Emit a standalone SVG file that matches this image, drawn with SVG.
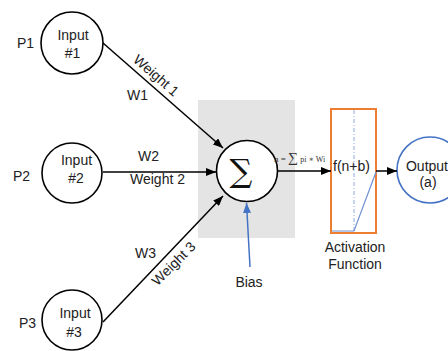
<svg xmlns="http://www.w3.org/2000/svg" width="448" height="351" viewBox="0 0 448 351">
<style>
.t{font-family:"Liberation Sans",Arial,sans-serif;font-size:14px;fill:#222}
.c{fill:#fff;stroke:#000;stroke-width:1.6}
.e{stroke:#000;stroke-width:1.5;fill:none}
.m{font-family:"Liberation Serif","DejaVu Serif",serif;fill:#333}
</style>
<defs>
<marker id="ah" markerWidth="10" markerHeight="8" refX="10" refY="4" orient="auto" markerUnits="userSpaceOnUse"><path d="M0,0L10,4L0,8z" fill="#000"/></marker>
<marker id="bh" markerWidth="10" markerHeight="8" refX="10" refY="4" orient="auto" markerUnits="userSpaceOnUse"><path d="M0,0L10,4L0,8z" fill="#4472C4"/></marker>
</defs>
<rect x="198" y="100" width="97" height="138" fill="#e4e4e4"/>
<g id="input1">
<circle class="c" cx="72" cy="43" r="31"/>
<text class="t" x="73" y="40" text-anchor="middle">Input</text>
<text class="t" x="72.5" y="58" text-anchor="middle">#1</text>
<text class="t" x="17" y="48">P1</text>
</g>
<g id="input2">
<circle class="c" cx="72" cy="173" r="30"/>
<text class="t" x="76.5" y="165" text-anchor="middle">Input</text>
<text class="t" x="76" y="183" text-anchor="middle">#2</text>
<text class="t" x="13" y="181">P2</text>
</g>
<g id="input3">
<circle class="c" cx="72" cy="320" r="30"/>
<text class="t" x="75" y="318" text-anchor="middle">Input</text>
<text class="t" x="74" y="337" text-anchor="middle">#3</text>
<text class="t" x="19" y="328">P3</text>
</g>
<g id="sum">
<circle class="c" cx="247" cy="171" r="30.5"/>
<text x="241" y="182" text-anchor="middle" font-family="'DejaVu Serif',serif" font-size="32" fill="#111">∑</text>
</g>
<g id="bias">
<text class="t" x="249" y="287" text-anchor="middle">Bias</text>
</g>
<g id="activation">
<rect x="331" y="109" width="45" height="124" fill="#fff" stroke="#ED7D31" stroke-width="2"/>
<line x1="354" y1="110" x2="354" y2="232" stroke="#8FAADC" stroke-width="1" stroke-dasharray="4,2,1,2"/>
<polyline points="332,231 354,231 376,172" fill="none" stroke="#6F8FD0" stroke-width="1.2"/>
<text class="t" x="351.5" y="171" text-anchor="middle">f(n+b)</text>
<text class="t" x="355" y="252" text-anchor="middle">Activation</text>
<text class="t" x="355" y="269" text-anchor="middle">Function</text>
</g>
<g id="output">
<circle cx="430" cy="170" r="33" fill="#fff" stroke="#4472C4" stroke-width="1.6"/>
<text class="t" x="427" y="171" text-anchor="middle">Output</text>
<text class="t" x="428" y="187" text-anchor="middle">(a)</text>
</g>
<g id="connectors">
<line class="e" x1="103" y1="43" x2="223" y2="148" marker-end="url(#ah)"/>
<line class="e" x1="103" y1="172" x2="216" y2="172" marker-end="url(#ah)"/>
<line class="e" x1="103" y1="322" x2="223" y2="196" marker-end="url(#ah)"/>
<line class="e" x1="277" y1="171" x2="331" y2="171" marker-end="url(#ah)"/>
<line class="e" x1="376" y1="171" x2="397" y2="171" marker-end="url(#ah)"/>
<line x1="250" y1="267" x2="246.5" y2="203" stroke="#4472C4" stroke-width="1.5" marker-end="url(#bh)"/>
<text class="t" transform="translate(153,79) rotate(41)" text-anchor="middle">Weight 1</text>
<text class="t" x="127" y="100">W1</text>
<text class="t" x="138" y="161">W2</text>
<text class="t" x="130" y="184">Weight 2</text>
<text class="t" x="135" y="258">W3</text>
<text class="t" transform="translate(177,267) rotate(-45)" text-anchor="middle">Weight 3</text>
<text class="m" x="274" y="162" font-size="9">n = <tspan font-size="14">∑</tspan> <tspan font-size="8">pi ∗ Wi</tspan></text>
</g>
</svg>
